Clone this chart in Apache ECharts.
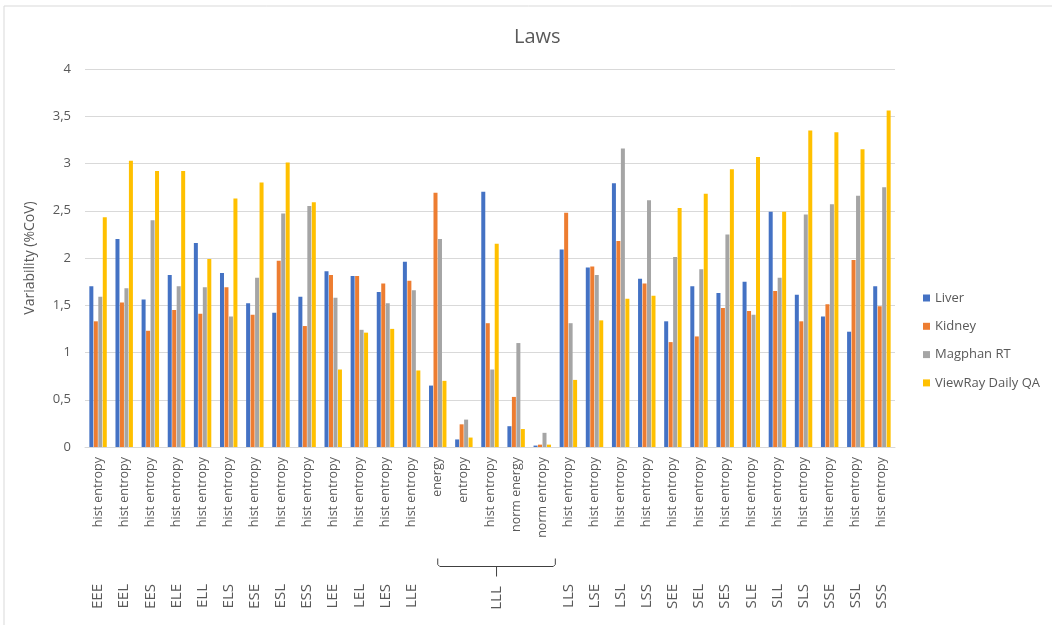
<!DOCTYPE html>
<html>
<head>
<meta charset="utf-8">
<script src="https://cdn.jsdelivr.net/npm/echarts@6/dist/echarts.min.js"></script>
<style>
  html, body { margin: 0; padding: 0; background: #fff; }
  #chart { width: 1052px; height: 625px; }
</style>
</head>
<body>
<div id="chart"></div>
<script>
// Texture filter groups (outer axis level) and the feature within each group (inner level)
const groupLabels = ['EEE','EEL','EES','ELE','ELL','ELS','ESE','ESL','ESS','LEE','LEL','LES','LLE',
  'LLL','LLL','LLL','LLL','LLL',
  'LLS','LSE','LSL','LSS','SEE','SEL','SES','SLE','SLL','SLS','SSE','SSL','SSS'];
const featureLabels = ['hist entropy','hist entropy','hist entropy','hist entropy','hist entropy','hist entropy',
  'hist entropy','hist entropy','hist entropy','hist entropy','hist entropy','hist entropy','hist entropy',
  'energy','entropy','hist entropy','norm energy','norm entropy',
  'hist entropy','hist entropy','hist entropy','hist entropy','hist entropy','hist entropy','hist entropy',
  'hist entropy','hist entropy','hist entropy','hist entropy','hist entropy','hist entropy'];

const seriesNames = ['Liver', 'Kidney', 'Magphan RT', 'ViewRay Daily QA'];

// Variability (%CoV) per category
const liver   = [1.70,2.20,1.56,1.82,2.16,1.84,1.52,1.42,1.59,1.86,1.81,1.64,1.96,
                 0.65,0.08,2.70,0.22,0.015,
                 2.09,1.90,2.79,1.78,1.33,1.70,1.63,1.75,2.49,1.61,1.38,1.22,1.70];
const kidney  = [1.33,1.53,1.23,1.45,1.41,1.69,1.40,1.97,1.28,1.82,1.81,1.73,1.76,
                 2.69,0.24,1.31,0.53,0.025,
                 2.48,1.91,2.18,1.73,1.11,1.17,1.47,1.44,1.65,1.33,1.51,1.98,1.49];
const magphan = [1.59,1.68,2.40,1.70,1.69,1.38,1.79,2.47,2.55,1.58,1.24,1.52,1.66,
                 2.20,0.29,0.82,1.10,0.15,
                 1.31,1.82,3.16,2.61,2.01,1.88,2.25,1.40,1.79,2.46,2.57,2.66,2.75];
const viewray = [2.43,3.03,2.92,2.92,1.99,2.63,2.80,3.01,2.59,0.82,1.21,1.25,0.81,
                 0.70,0.10,2.15,0.19,0.025,
                 0.71,1.34,1.57,1.60,2.53,2.68,2.94,3.07,2.49,3.35,3.33,3.15,3.56];

const colors = ['#4472C4', '#ED7D31', '#A5A5A5', '#FFC000'];
const FONT = 'Open Sans, sans-serif';
const TXT = '#595959';

const categories = groupLabels.map((g, i) => g + '|' + featureLabels[i]);
const values = [liver, kidney, magphan, viewray];

const chart = echarts.init(document.getElementById('chart'), null, { renderer: 'canvas' });

const option = {
  animation: false,
  backgroundColor: '#fff',
  color: colors,
  textStyle: { fontFamily: FONT },
  title: {
    text: 'Laws',
    left: 509, top: 22,
    textStyle: { fontFamily: FONT, fontSize: 20, fontWeight: 'normal', color: TXT }
  },
  grid: { left: 85, right: 157, top: 69, bottom: 178, containLabel: false },
  legend: {
    orient: 'vertical',
    left: 918, top: 285,
    icon: 'rect',
    itemWidth: 7, itemHeight: 7,
    itemGap: 12.3,
    textStyle: { fontFamily: FONT, fontSize: 13, color: TXT, lineHeight: 16 },
    data: seriesNames
  },
  xAxis: [
    {
      type: 'category',
      data: categories,
      axisLine: { lineStyle: { color: '#d9d9d9', width: 1 } },
      axisTick: { show: false },
      axisLabel: {
        interval: 0, rotate: 90, margin: 10,
        fontFamily: FONT, fontSize: 12.5, color: TXT,
        formatter: v => v.split('|')[1]
      }
    },
    {
      type: 'category',
      data: categories,
      position: 'bottom',
      axisLine: { show: false },
      axisTick: { show: false },
      splitLine: { show: false },
      axisLabel: {
        interval: 0, rotate: 90, margin: 137,
        fontFamily: FONT, fontSize: 15, color: TXT,
        formatter: v => { const g = v.split('|')[0]; return g === 'LLL' ? '' : g; }
      }
    }
  ],
  yAxis: {
    type: 'value',
    min: 0, max: 4, interval: 0.5,
    name: 'Variability (%CoV)',
    nameLocation: 'middle',
    nameGap: 48,
    nameRotate: 90,
    nameTextStyle: { fontFamily: FONT, fontSize: 14, color: TXT },
    axisLine: { show: false },
    axisTick: { show: false },
    axisLabel: {
      margin: 14, fontFamily: FONT, fontSize: 13, color: TXT,
      formatter: v => String(v).replace('.', ',')
    },
    splitLine: { lineStyle: { color: '#d9d9d9', width: 1 } }
  },
  series: seriesNames.map((name, k) => ({
    name,
    type: 'bar',
    xAxisIndex: 0,
    data: values[k],
    barWidth: 4,
    barGap: '12%',
    itemStyle: { color: colors[k] }
  }))
};

chart.setOption(option);

// Bracket and label for the grouped LLL categories on the outer axis level
const first = groupLabels.indexOf('LLL');
const last = groupLabels.lastIndexOf('LLL');
const px = i => chart.convertToPixel({ xAxisIndex: 0 }, categories[i]);
const band = px(first + 1) - px(first);
const xl = px(first);
const xr = px(last) + band / 2;
const xm = (xl + xr) / 2;
const yb = 566.5;

chart.setOption({
  graphic: [
    {
      type: 'rect', silent: true,
      shape: { x: 4, y: 6, width: 1200, height: 800 },
      style: { fill: 'none', stroke: '#d9d9d9', lineWidth: 1 }
    },
    {
      type: 'polyline', silent: true,
      shape: { points: [[xl, yb - 8], [xl, yb - 2], [xl + 2, yb], [xr - 2, yb], [xr, yb - 2], [xr, yb - 8]] },
      style: { fill: 'none', stroke: '#404040', lineWidth: 1 }
    },
    {
      type: 'line', silent: true,
      shape: { x1: xm, y1: yb, x2: xm, y2: yb + 10 },
      style: { stroke: '#404040', lineWidth: 1 }
    },
    {
      type: 'text', silent: true,
      x: xm, y: 598, rotation: Math.PI / 2,
      style: { text: 'LLL', fontFamily: FONT, fontSize: 15, fill: TXT, align: 'center', verticalAlign: 'middle' }
    }
  ]
});
</script>
</body>
</html>
